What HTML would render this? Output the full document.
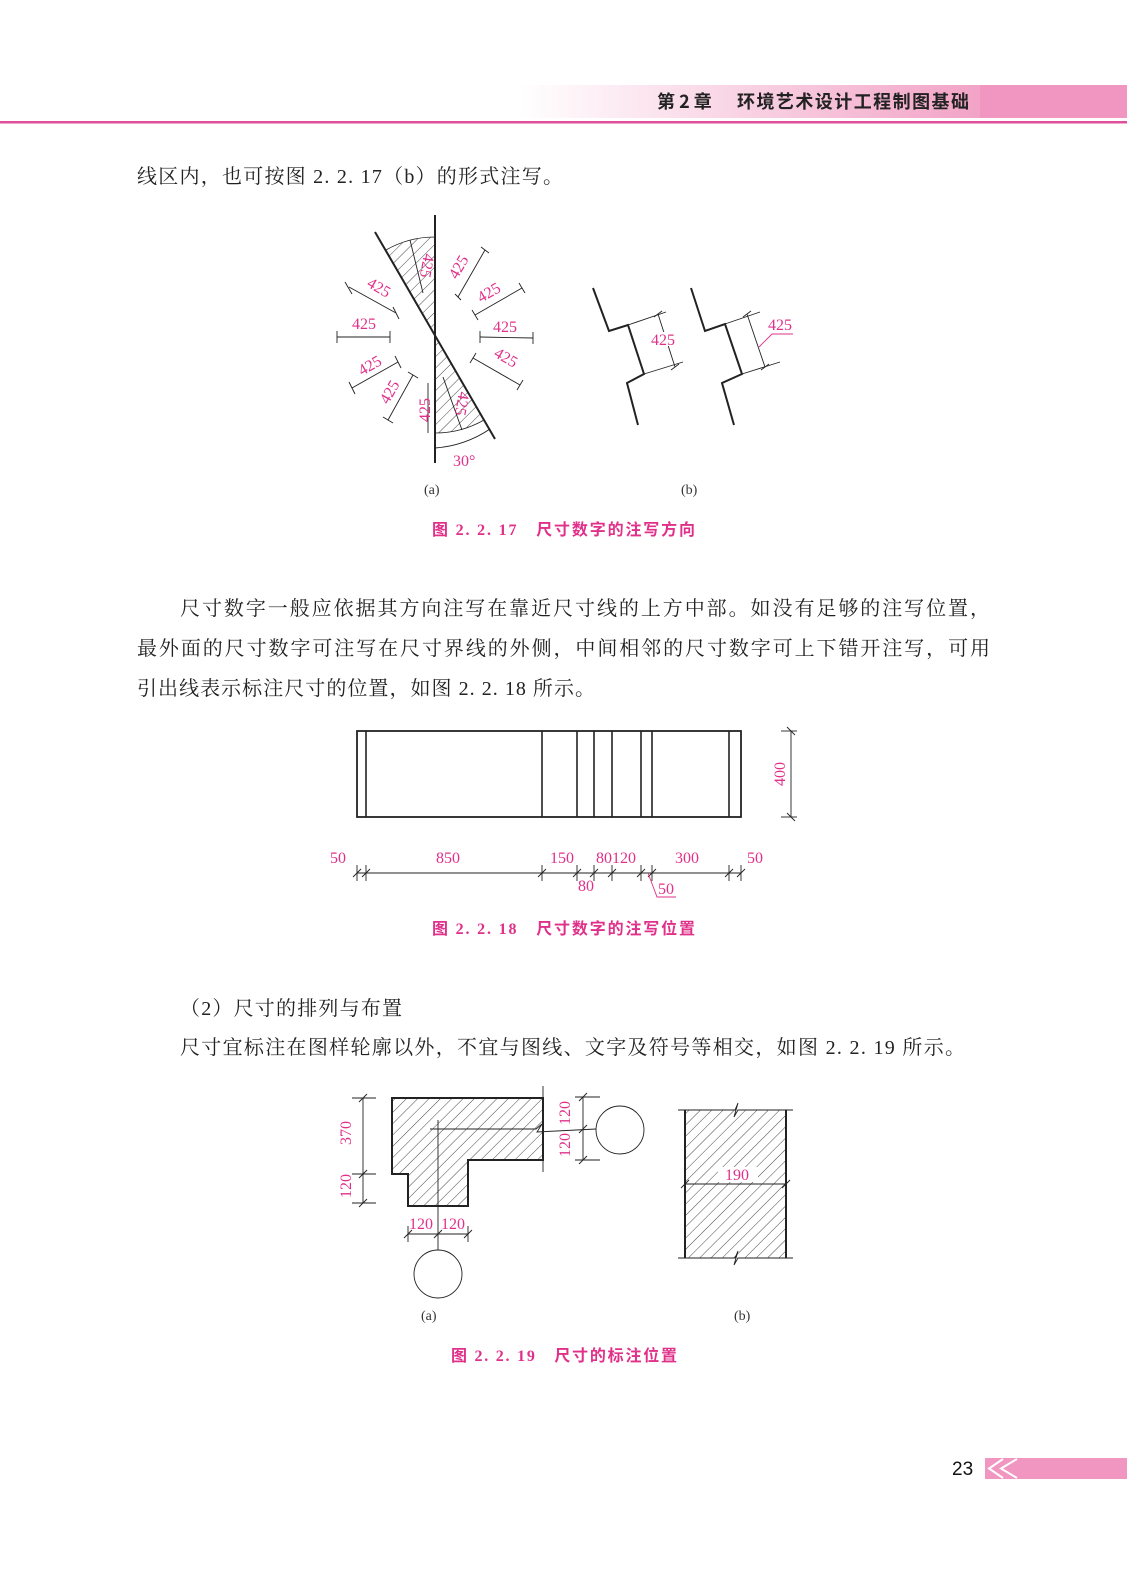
<!DOCTYPE html>
<html><head><meta charset="utf-8"><style>
html,body{margin:0;padding:0;background:#fff;}
svg{display:block;}
.b{font-family:"Liberation Serif","Noto Serif CJK SC",serif;font-size:20px;fill:#222;}
.m{font-family:"Liberation Serif",serif;font-size:16px;fill:#e0308a;}
.c{font-family:"Liberation Serif","Noto Sans CJK SC",sans-serif;font-size:16px;font-weight:bold;fill:#e0308a;}
.l{font-family:"Liberation Serif",serif;font-size:14px;fill:#333;}
</style></head><body>
<svg width="1127" height="1570" viewBox="0 0 1127 1570" xmlns="http://www.w3.org/2000/svg">
<defs>
<linearGradient id="hg" x1="0" x2="1" y1="0" y2="0">
<stop offset="0" stop-color="#fff"/><stop offset="1" stop-color="#f2a3c6"/>
</linearGradient>
<pattern id="h" width="8" height="8" patternUnits="userSpaceOnUse" patternTransform="rotate(45)">
<line x1="0" y1="0" x2="0" y2="8" stroke="#333" stroke-width="0.9"/>
</pattern>
</defs>
<!-- header -->
<rect x="520" y="85" width="460" height="33" fill="url(#hg)"/>
<rect x="980" y="85" width="147" height="33" fill="#f196c0"/>
<rect x="0" y="121" width="1127" height="2.5" fill="#e0509a"/>
<text x="657" y="108" font-family="'Noto Sans CJK SC',sans-serif" font-size="18" font-weight="bold" fill="#222">第 2 章</text>
<text x="737" y="108" font-family="'Noto Sans CJK SC',sans-serif" font-size="18" font-weight="bold" fill="#222" textLength="232">环境艺术设计工程制图基础</text>

<!-- body text -->
<text class="b" x="137" y="183" textLength="426">线区内，也可按图 2. 2. 17（b）的形式注写。</text>
<text class="b" x="180" y="615" textLength="810">尺寸数字一般应依据其方向注写在靠近尺寸线的上方中部。如没有足够的注写位置，</text>
<text class="b" x="137" y="655" textLength="853">最外面的尺寸数字可注写在尺寸界线的外侧，中间相邻的尺寸数字可上下错开注写，可用</text>
<text class="b" x="137" y="695" textLength="458">引出线表示标注尺寸的位置，如图 2. 2. 18 所示。</text>
<text class="b" x="180" y="1015" textLength="222">（2）尺寸的排列与布置</text>
<text class="b" x="180" y="1054" textLength="785">尺寸宜标注在图样轮廓以外，不宜与图线、文字及符号等相交，如图 2. 2. 19 所示。</text>

<!-- Fig 2.2.17 (a) -->
<g stroke="#222" fill="none">
<path d="M435,237 A98,98 0 0 0 386,250 L435,335 Z" fill="url(#h)" stroke-width="0.8"/>
<path d="M435,433 A98,98 0 0 0 484,420 L435,335 Z" fill="url(#h)" stroke-width="0.8"/>
<line x1="435" y1="215" x2="435" y2="463" stroke-width="2"/>
<line x1="375" y1="232" x2="495" y2="439" stroke-width="2"/>
<path d="M435,448 A113,113 0 0 0 490,429" stroke-width="1"/>
<g stroke-width="0.9">
<line x1="349" y1="287" x2="396" y2="313"/>
<line x1="337" y1="337" x2="390" y2="337"/>
<line x1="352" y1="388" x2="398" y2="362"/>
<line x1="388" y1="420" x2="413" y2="375"/>
<line x1="428" y1="383" x2="428" y2="433"/>
<line x1="410" y1="240" x2="423" y2="293"/>
<line x1="458" y1="297" x2="485" y2="250"/>
<line x1="475" y1="315" x2="522" y2="288"/>
<line x1="480" y1="337" x2="533" y2="338"/>
<line x1="473" y1="358" x2="520" y2="385"/>
<line x1="443" y1="377" x2="462" y2="430"/>
<line x1="345" y1="282" x2="352" y2="294"/><line x1="393" y1="307" x2="399" y2="319"/>
<line x1="337" y1="331" x2="337" y2="343"/><line x1="390" y1="331" x2="390" y2="343"/>
<line x1="349" y1="382" x2="355" y2="394"/><line x1="395" y1="356" x2="401" y2="368"/>
<line x1="383" y1="417" x2="393" y2="423"/><line x1="408" y1="372" x2="418" y2="378"/>
<line x1="455" y1="294" x2="461" y2="300"/><line x1="481" y1="247" x2="489" y2="253"/>
<line x1="472" y1="310" x2="478" y2="320"/><line x1="519" y1="283" x2="525" y2="293"/>
<line x1="480" y1="331" x2="480" y2="343"/><line x1="533" y1="332" x2="533" y2="344"/>
<line x1="470" y1="363" x2="476" y2="353"/><line x1="517" y1="390" x2="523" y2="380"/>
</g>
</g>
<text class="m" transform="translate(366,286) rotate(30)">425</text>
<text class="m" x="352" y="329">425</text>
<text class="m" transform="translate(362,376) rotate(-30)">425</text>
<text class="m" transform="translate(388,405) rotate(-60)">425</text>
<text class="m" transform="translate(430,422) rotate(-90)">425</text>
<text class="m" transform="translate(424,253) rotate(100)">425</text>
<text class="m" transform="translate(457,280) rotate(-60)">425</text>
<text class="m" transform="translate(481,303) rotate(-30)">425</text>
<text class="m" x="493" y="332">425</text>
<text class="m" transform="translate(493,356) rotate(30)">425</text>
<text class="m" transform="translate(459,391) rotate(100)">425</text>
<text class="m" x="453" y="466">30°</text>

<!-- Fig 2.2.17 (b) -->
<g stroke="#222" fill="none">
<polyline points="593,288 609,331 628,325 644,374 627,383 638,425" stroke-width="2"/>
<polyline points="691,288 705,331 725,324 742,374 722,383 734,425" stroke-width="2"/>
<g stroke-width="0.9">
<line x1="628" y1="325" x2="666" y2="312"/><line x1="644" y1="374" x2="683" y2="362"/>
<line x1="658" y1="314" x2="675" y2="367"/>
<line x1="725" y1="324" x2="760" y2="312"/><line x1="742" y1="374" x2="780" y2="362"/>
<line x1="747" y1="314" x2="765" y2="367"/>
<line x1="654" y1="317" x2="662" y2="311"/><line x1="671" y1="370" x2="679" y2="364"/>
<line x1="743" y1="317" x2="751" y2="311"/><line x1="761" y1="370" x2="769" y2="364"/>
</g>
<polyline points="759,347 772,334 793,334" stroke="#e0308a" stroke-width="0.9"/>
</g>
<rect x="650" y="332" width="26" height="14" fill="#fff"/>
<text class="m" x="651" y="345">425</text>
<text class="m" x="768" y="330">425</text>
<text class="l" x="424" y="494">(a)</text>
<text class="l" x="681" y="494">(b)</text>
<text class="c" x="432" y="535" textLength="263">图 2. 2. 17　尺寸数字的注写方向</text>

<!-- Fig 2.2.18 -->
<g stroke="#222" fill="none">
<rect x="357" y="731" width="384" height="86" stroke-width="1.8"/>
<g stroke-width="1.6">
<line x1="366" y1="731" x2="366" y2="817"/><line x1="542" y1="731" x2="542" y2="817"/>
<line x1="577" y1="731" x2="577" y2="817"/><line x1="594" y1="731" x2="594" y2="817"/>
<line x1="612" y1="731" x2="612" y2="817"/><line x1="641" y1="731" x2="641" y2="817"/>
<line x1="652" y1="731" x2="652" y2="817"/><line x1="729" y1="731" x2="729" y2="817"/>
</g>
<g stroke-width="0.9">
<line x1="357" y1="873" x2="741" y2="873"/>
<line x1="791" y1="731" x2="791" y2="817"/>
<line x1="781" y1="731" x2="797" y2="731"/><line x1="781" y1="817" x2="797" y2="817"/>
<line x1="787" y1="727" x2="795" y2="735"/><line x1="787" y1="813" x2="795" y2="821"/>
<line x1="357" y1="865" x2="357" y2="881"/><line x1="366" y1="865" x2="366" y2="881"/>
<line x1="542" y1="865" x2="542" y2="881"/><line x1="577" y1="865" x2="577" y2="881"/>
<line x1="594" y1="865" x2="594" y2="881"/><line x1="612" y1="865" x2="612" y2="881"/>
<line x1="641" y1="865" x2="641" y2="881"/><line x1="652" y1="865" x2="652" y2="881"/>
<line x1="729" y1="865" x2="729" y2="881"/><line x1="741" y1="865" x2="741" y2="881"/>
<path d="M353,877l8,-8M362,877l8,-8M538,877l8,-8M573,877l8,-8M590,877l8,-8M608,877l8,-8M637,877l8,-8M648,877l8,-8M725,877l8,-8M737,877l8,-8"/>
</g>
<polyline points="648,873 657,897 676,897" stroke="#e0308a" stroke-width="0.9"/>
</g>
<text class="m" x="330" y="863">50</text>
<text class="m" x="436" y="863">850</text>
<text class="m" x="550" y="863">150</text>
<text class="m" x="596" y="863">80</text>
<text class="m" x="612" y="863">120</text>
<text class="m" x="675" y="863">300</text>
<text class="m" x="747" y="863">50</text>
<text class="m" x="578" y="891">80</text>
<text class="m" x="658" y="894">50</text>
<text class="m" transform="translate(785,786) rotate(-90)">400</text>
<text class="c" x="432" y="934" textLength="263">图 2. 2. 18　尺寸数字的注写位置</text>

<!-- Fig 2.2.19 (a) -->
<g stroke="#222" fill="none">
<polygon points="392,1098 543,1098 543,1160 468,1160 468,1206 408,1206 408,1174 392,1174" fill="url(#h)" stroke-width="2"/>
<g stroke-width="0.9">
<line x1="543" y1="1086" x2="543" y2="1172"/>
<polyline points="430,1129 536,1129 542,1124 537,1132 596,1129"/>
<line x1="438" y1="1120" x2="438" y2="1250"/>
<circle cx="620" cy="1130" r="24"/>
<circle cx="438" cy="1274" r="24"/>
<line x1="363" y1="1098" x2="363" y2="1203"/>
<line x1="352" y1="1098" x2="376" y2="1098"/><line x1="352" y1="1174" x2="376" y2="1174"/><line x1="352" y1="1203" x2="376" y2="1203"/>
<path d="M359,1102l8,-8M359,1178l8,-8M359,1207l8,-8"/>
<line x1="583" y1="1097" x2="583" y2="1160"/>
<line x1="575" y1="1097" x2="600" y2="1097"/><line x1="575" y1="1160" x2="600" y2="1160"/>
<path d="M579,1101l8,-8M579,1133l8,-8M579,1164l8,-8"/>
<line x1="408" y1="1234" x2="468" y2="1234"/>
<line x1="408" y1="1226" x2="408" y2="1242"/><line x1="468" y1="1226" x2="468" y2="1242"/>
<path d="M404,1238l8,-8M434,1238l8,-8M464,1238l8,-8"/>
</g>
</g>
<text class="m" transform="translate(351,1145) rotate(-90)">370</text>
<text class="m" transform="translate(351,1198) rotate(-90)">120</text>
<text class="m" transform="translate(570,1125) rotate(-90)">120</text>
<text class="m" transform="translate(570,1157) rotate(-90)">120</text>
<text class="m" x="409" y="1229">120</text>
<text class="m" x="441" y="1229">120</text>

<!-- Fig 2.2.19 (b) -->
<g stroke="#222" fill="none">
<rect x="685" y="1110" width="101" height="148" fill="url(#h)" stroke="none"/>
<rect x="718" y="1167" width="40" height="15" fill="#fff" stroke="none"/>
<line x1="685" y1="1110" x2="685" y2="1258" stroke-width="2"/>
<line x1="786" y1="1110" x2="786" y2="1258" stroke-width="2"/>
<g stroke-width="0.9">
<polyline points="678,1110 735,1110 738,1103 734,1117 738,1110 793,1110"/>
<polyline points="678,1258 735,1258 738,1251 734,1265 738,1258 793,1258"/>
<line x1="685" y1="1184" x2="786" y2="1184"/>
<path d="M681,1188l8,-8M782,1188l8,-8"/>
</g>
</g>
<text class="m" x="725" y="1180">190</text>
<text class="l" x="421" y="1320">(a)</text>
<text class="l" x="734" y="1320">(b)</text>
<text class="c" x="451" y="1361" textLength="226">图 2. 2. 19　尺寸的标注位置</text>

<!-- footer -->
<text x="952" y="1475" font-family="'Liberation Sans',sans-serif" font-size="19" fill="#111">23</text>
<rect x="985" y="1458" width="142" height="21" fill="#f196c0"/>
<polyline points="1003,1459 989,1468.5 1003,1478" stroke="#fff" stroke-width="2" fill="none"/>
<polyline points="1017,1459 1001,1468.5 1017,1478" stroke="#fff" stroke-width="2" fill="none"/>
</svg>
</body></html>
